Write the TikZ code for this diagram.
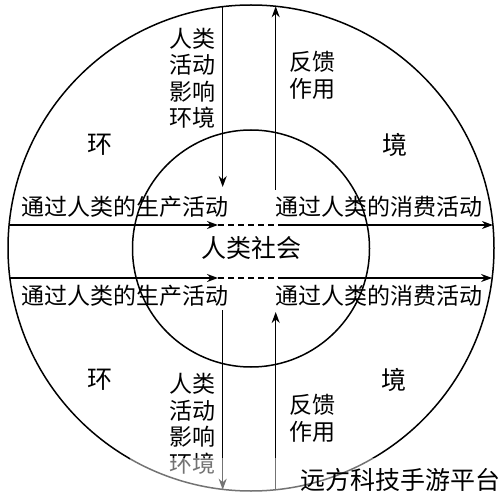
\documentclass[tikz,border=0pt]{standalone}
\usepackage{fontspec}
\setmainfont{Noto Sans CJK SC}
\usetikzlibrary{arrows.meta}
\begin{document}
\begin{tikzpicture}[x=1pt,y=-1pt,
  ln/.style={line width=1.5pt},
  arr/.style={ln,-{Stealth[length=11pt,width=8pt]}},
  dsh/.style={ln,dash pattern=on 6pt off 4pt},
  ring/.style={draw,circle,ln,inner sep=0pt,outer sep=0pt},
  lbl/.style={font=\fontsize{23}{26.5}\selectfont,inner sep=0pt,align=center},
  big/.style={font=\fontsize{25}{25}\selectfont,inner sep=0pt}]
\useasboundingbox (0,0) rectangle (501,500);
% circles
\node[ring,minimum size=486pt] (outer) at (251,248) {};
\node[ring,minimum size=237pt] (inner) at (251,248.5) {};
% end points
\coordinate (tlA) at (222.7,6.7);   \coordinate (tlB) at (222.7,187);
\coordinate (trA) at (275.7,190);   \coordinate (trB) at (275.7,6.3);
\coordinate (blA) at (222.7,310);   \coordinate (blB) at (222.7,489.7);
\coordinate (brA) at (275.7,489.7); \coordinate (brB) at (275.7,312);
\coordinate (ulA) at (9.1,225);  \coordinate (ulB) at (218,225);
\coordinate (ulC) at (283,225);  \coordinate (urB) at (492.9,225);
\coordinate (llA) at (9.9,278);  \coordinate (llB) at (218,278);
\coordinate (llC) at (283,278);  \coordinate (lrB) at (492.1,278);
% vertical arrows
\draw[arr] (tlA) -- (tlB);
\draw[arr] (trA) -- (trB);
\draw[arr] (blA) -- (blB);
\draw[arr] (brA) -- (brB);
% horizontal arrows
\draw[arr] (ulA) -- (ulB);
\draw[dsh] (ulB) -- (ulC);
\draw[arr] (ulC) -- (urB);
\draw[arr] (llA) -- (llB);
\draw[dsh] (llB) -- (llC);
\draw[arr] (llC) -- (lrB);
% labels
\node[big] (soc) at (251,248) {人类社会};
\node[lbl] (pu) at (125,207) {通过人类的生产活动};
\node[lbl] (cu) at (379,207) {通过人类的消费活动};
\node[lbl] (pl) at (125,296) {通过人类的生产活动};
\node[lbl] (cl) at (379,296) {通过人类的消费活动};
\node[lbl] (ht) at (192.5,78.5) {人类\\活动\\影响\\环境};
\node[lbl] (ft) at (312,75.5) {反馈\\作用};
\node[lbl] (hb) at (192.5,424) {人类\\活动\\影响\\环境};
\node[lbl] (fb) at (312,418.5) {反馈\\作用};
\node[big] (e1) at (100,145) {环};
\node[big] (e2) at (395,145) {境};
\node[big] (e3) at (100,380) {环};
\node[big] (e4) at (394,380) {境};
% watermark
\fill[white,opacity=0.45] (130,458) rectangle (378,500);
\node[big,anchor=east] (wm) at (501,480) {远方科技手游平台};
\end{tikzpicture}
\end{document}
